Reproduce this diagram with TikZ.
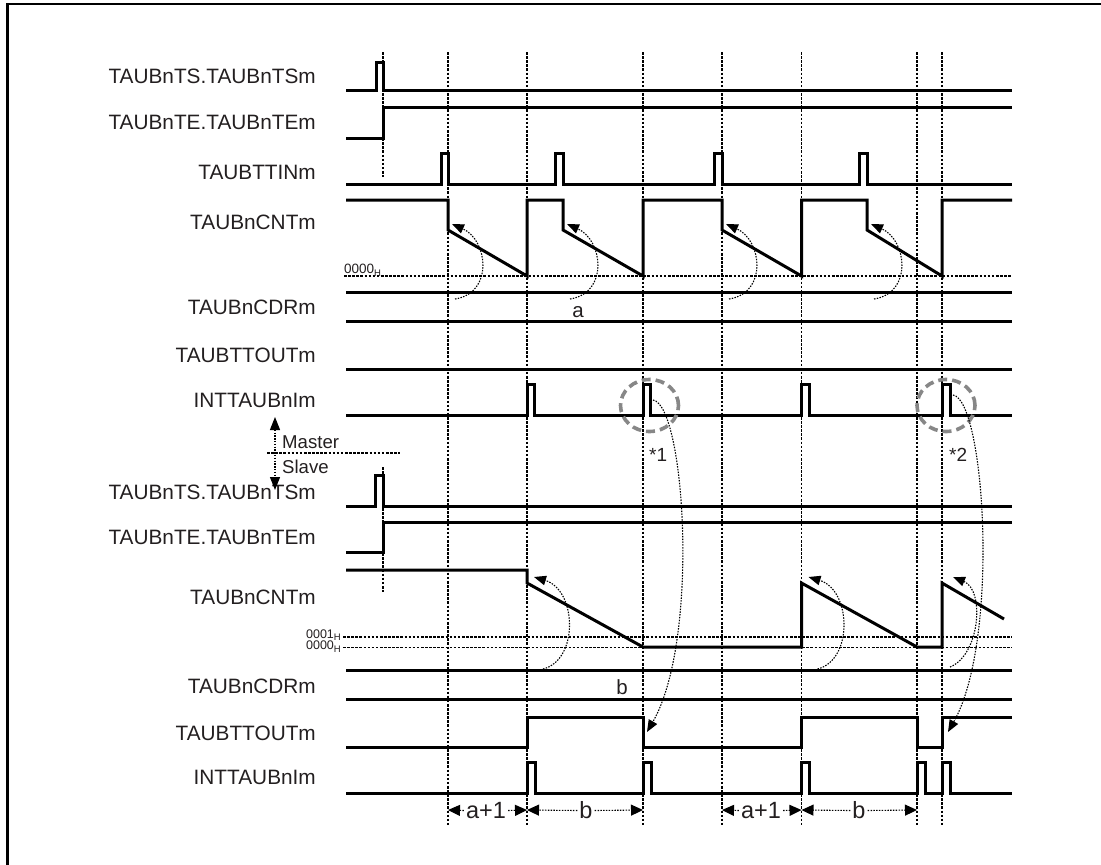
\documentclass[tikz,border=0pt]{standalone}
\usepackage{fontspec}
\setmainfont{Liberation Sans}
\usetikzlibrary{arrows.meta}
\definecolor{txt}{RGB}{35,31,32}
\definecolor{circ}{RGB}{135,135,135}
\begin{document}
\begin{tikzpicture}[x=1pt,y=-1pt,
  sig/.style={line width=3pt, line join=miter},
  gridline/.style={line width=1.7pt, dash pattern=on 2.6pt off 1.5pt},
  fine/.style={line width=1.1pt, dash pattern=on 1.5pt off 1.3pt},
  tipend/.style={-{Triangle[length=12pt,width=9.5pt]}},
  lbl/.style={anchor=base east, inner sep=0pt, text=txt, font=\fontsize{20.8}{24}\selectfont},
  small/.style={inner sep=0pt, text=txt, font=\fontsize{20.5}{24}\selectfont},
  zero/.style={inner sep=0pt, text=txt},
  dim/.style={inner xsep=2pt, inner ysep=0pt, text height=16pt, text depth=0pt, anchor=base, text=txt, font=\fontsize{23.5}{26}\selectfont},
  ring/.style={line width=3.6pt, draw=circ, dash pattern=on 9pt off 5pt}
]
\useasboundingbox (0,0) rectangle (1101,865);
% frame
\draw[line width=2.7pt] (7.3,866) -- (7.3,4) -- (1102,4);

% vertical dotted guide lines
\foreach \x/\n in {448/g1,527/g2,643/g3,722/g4,801.5/g5,917/g6,942/g7} {
  \coordinate (\n top) at (\x,52);
  \coordinate (\n bot) at (\x,826);
  \draw[gridline] (\n top) -- (\n bot);
}
\draw[gridline] (383,52) -- (383,177);
\draw[gridline] (383,467) -- (383,592);

% level lines
\draw[gridline] (344,276) -- (1012,276);
\draw[gridline] (343,637) -- (1012,637);
\draw[gridline] (343,647.5) -- (1012,647.5);
\node[zero, anchor=base west] (m0000) at (344,273.5) {\fontsize{13.5}{15}\selectfont 0000\raisebox{-2.5pt}{\fontsize{9.5}{10}\selectfont H}};
\node[zero, anchor=base east] (s0001) at (341,638) {\fontsize{12.5}{14}\selectfont 0001\raisebox{-2.5pt}{\fontsize{9.5}{10}\selectfont H}};
\node[zero, anchor=base east] (s0000) at (341,649.5) {\fontsize{12.5}{14}\selectfont 0000\raisebox{-2.5pt}{\fontsize{9.5}{10}\selectfont H}};

% ---------------- labels -----------------
\node[lbl] (mTS)  at (316,83.5)  {TAUBnTS.TAUBnTSm};
\node[lbl] (mTE)  at (316,129.5) {TAUBnTE.TAUBnTEm};
\node[lbl] (mTIN) at (316,179)   {TAUBTTINm};
\node[lbl] (mCNT) at (316,229.5) {TAUBnCNTm};
\node[lbl] (mCDR) at (316,314.5) {TAUBnCDRm};
\node[lbl] (mOUT) at (316,362.5) {TAUBTTOUTm};
\node[lbl] (mINT) at (316,407.5) {INTTAUBnIm};
\node[lbl] (sTS)  at (316,499.5) {TAUBnTS.TAUBnTSm};
\node[lbl] (sTE)  at (316,544.5) {TAUBnTE.TAUBnTEm};
\node[lbl] (sCNT) at (316,604.5) {TAUBnCNTm};
\node[lbl] (sCDR) at (316,693.5) {TAUBnCDRm};
\node[lbl] (sOUT) at (316,740.5) {TAUBTTOUTm};
\node[lbl] (sINT) at (316,784.5) {INTTAUBnIm};

% ---------------- master signals -----------------
\draw[sig] (346,90) -- (376,90) -- (376,62) -- (383,62) -- (383,90) -- (1012,90);
\draw[sig] (346,138) -- (383,138) -- (383,107) -- (1012,107);
\draw[sig] (346,184) -- (441,184) -- (441,153) -- (448,153) -- (448,184)
  -- (555,184) -- (555,153) -- (563,153) -- (563,184)
  -- (714,184) -- (714,153) -- (722,153) -- (722,184)
  -- (859,184) -- (859,153) -- (867,153) -- (867,184) -- (1012,184);
\draw[sig] (346,200) -- (448,200) -- (448,230) -- (527,276) -- (527,200)
  -- (563,200) -- (563,230) -- (643,276) -- (643,200)
  -- (722,200) -- (722,230) -- (801.5,276) -- (801.5,200)
  -- (867,200) -- (867,230) -- (942,276) -- (942,200) -- (1012,200);
\draw[sig] (346,292) -- (1012,292);
\draw[sig] (346,321) -- (1012,321);
\draw[sig] (346,369) -- (1012,369);
\draw[sig] (346,415) -- (527,415) -- (527,384) -- (534,384) -- (534,415)
  -- (643,415) -- (643,384) -- (650,384) -- (650,415)
  -- (801.5,415) -- (801.5,384) -- (809,384) -- (809,415)
  -- (942,415) -- (942,384) -- (950,384) -- (950,415) -- (1012,415);
\node[small, anchor=base] (la) at (578,317) {a};

% master reload arrows
\foreach \x [count=\i] in {448,563,722,867} {
  \coordinate (mcs\i) at (\x+7,299);
  \coordinate (mct\i) at (\x+4,224);
  \draw[fine, tipend] (mcs\i) .. controls +(39,-6) and +(36,16) .. (mct\i);
}

% rings and notes
\draw[ring] (649.5,405.5) ellipse [x radius=29pt, y radius=26pt];
\draw[ring] (946,405.5) ellipse [x radius=29pt, y radius=26pt];
\node[small, anchor=base west, font=\fontsize{19}{22}\selectfont] (n1) at (649,461.5) {*1};
\node[small, anchor=base west, font=\fontsize{19}{22}\selectfont] (n2) at (949,461.5) {*2};

% master / slave divider
\coordinate (msl) at (267,453);
\coordinate (msr) at (400,453);
\draw[gridline, line width=1.1pt] (msl) -- (msr);
\coordinate (mst) at (275,417);
\coordinate (msb) at (275,490);
\draw[fine, {Triangle[length=13pt,width=10pt]}-{Triangle[length=13pt,width=10pt]}] (mst) -- (msb);
\node[small, anchor=base west, font=\fontsize{18.6}{22}\selectfont] (master) at (282,448.3) {Master};
\node[small, anchor=base west, font=\fontsize{18.6}{22}\selectfont] (slave) at (282,473.3) {Slave};

% ---------------- slave signals -----------------
\draw[sig] (346,506) -- (375,506) -- (375,475) -- (383,475) -- (383,506) -- (1012,506);
\draw[sig] (346,552) -- (383,552) -- (383,522) -- (1012,522);
\draw[sig] (346,570) -- (527,570) -- (527,583) -- (643,647) -- (801.5,647)
  -- (801.5,583) -- (917,647) -- (942,647) -- (942,583) -- (1004,619);
\draw[sig] (346,670.5) -- (1012,670.5);
\draw[sig] (346,699.5) -- (1012,699.5);
\draw[sig] (346,747) -- (527,747) -- (527,717) -- (643,717) -- (643,747)
  -- (801.5,747) -- (801.5,717) -- (917,717) -- (917,747)
  -- (942,747) -- (942,717) -- (1012,717);
\draw[sig] (346,793) -- (527,793) -- (527,762) -- (535,762) -- (535,793)
  -- (643,793) -- (643,762) -- (651,762) -- (651,793)
  -- (801.5,793) -- (801.5,762) -- (809.5,762) -- (809.5,793)
  -- (917,793) -- (917,762) -- (925,762) -- (925,793)
  -- (942,793) -- (942,762) -- (950,762) -- (950,793) -- (1012,793);
\node[small, anchor=base] (lb) at (622,694) {b};

% slave reload arrows
\foreach \x [count=\i] in {527,801.5} {
  \coordinate (scs\i) at (\x+16,669);
  \coordinate (sct\i) at (\x+7,577);
  \draw[fine, tipend] (scs\i) .. controls +(36,-9) and +(43,13) .. (sct\i);
}
\coordinate (scs3) at (950,667);
\coordinate (sct3) at (953,577);
\draw[fine, tipend] (scs3) .. controls +(30,-12) and +(32,13) .. (sct3);

% trigger arrows master INT -> slave TTOUT
\coordinate (t1s) at (653,400);
\coordinate (t1e) at (647,732);
\draw[fine, tipend] (t1s) .. controls (685,405) and (700,640) .. (t1e);
\coordinate (t2s) at (953,395);
\coordinate (t2e) at (948,732);
\draw[fine, tipend] (t2s) .. controls (985,400) and (1000,640) .. (t2e);

% ---------------- dimensions -----------------
\tikzset{dimtip/.style={fine, -{Triangle[length=12pt,width=11pt]}}}
\node[dim, fill=white] (d1) at (486,818.5) {a+1};
\coordinate (d1l) at (448,810); \coordinate (d1r) at (527,810);
\draw[dimtip] (d1.west) -- (d1l);
\draw[dimtip] (d1.east) -- (d1r);
\node[dim, fill=white] (d2) at (586,818.5) {b};
\coordinate (d2l) at (527,810); \coordinate (d2r) at (643,810);
\draw[dimtip] (d2.west) -- (d2l);
\draw[dimtip] (d2.east) -- (d2r);
\node[dim, fill=white] (d3) at (761,818.5) {a+1};
\coordinate (d3l) at (722,810); \coordinate (d3r) at (801.5,810);
\draw[dimtip] (d3.west) -- (d3l);
\draw[dimtip] (d3.east) -- (d3r);
\node[dim, fill=white] (d4) at (859,818.5) {b};
\coordinate (d4l) at (801.5,810); \coordinate (d4r) at (917,810);
\draw[dimtip] (d4.west) -- (d4l);
\draw[dimtip] (d4.east) -- (d4r);
\end{tikzpicture}
\end{document}
